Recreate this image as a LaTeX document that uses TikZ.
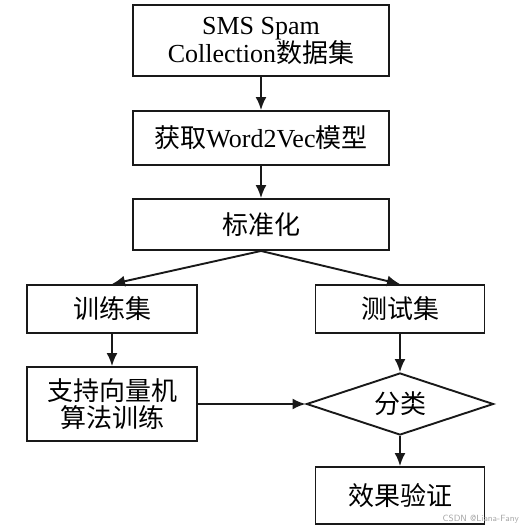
\documentclass[tikz,border=0pt]{standalone}
\usepackage{fontspec}
\setmainfont{Liberation Serif}
\newfontfamily\cjk{Noto Sans CJK SC}
\usetikzlibrary{shapes.geometric,arrows.meta}
\begin{document}
\begin{tikzpicture}[x=1pt,y=-1pt,
  box/.style={draw=black!90, line width=1.9pt, rectangle, inner sep=0pt, align=center,
    font=\fontsize{26}{30}\selectfont},
  dia/.style={draw=black!90, line width=1.9pt, diamond, aspect=3, inner sep=0pt,
    minimum width=187pt, minimum height=62pt, font=\fontsize{26}{30}\selectfont},
  arr/.style={draw=black!90, line width=1.9pt, -{Latex[length=13pt,width=11pt]}}]
\useasboundingbox (0,0) rectangle (524,530);
\node[box, minimum width=256pt, minimum height=71pt] (data) at (261,40.5)
  {SMS Spam\\[-2pt]Collection{\cjk 数据集}};
\node[box, minimum width=256pt, minimum height=54pt] (w2v) at (261,138)
  {{\cjk 获取}Word2Vec{\cjk 模型}};
\node[box, minimum width=256pt, minimum height=51pt] (norm) at (261,224.5)
  {\cjk 标准化};
\node[box, minimum width=170pt, minimum height=48pt] (train) at (112,309)
  {\cjk 训练集};
\node[box, minimum width=169pt, minimum height=48pt] (test) at (400,309)
  {\cjk 测试集};
\node[box, minimum width=170pt, minimum height=74pt] (svm) at (112,404)
  {\cjk 支持向量机\\[-3pt]\cjk 算法训练};
\node[dia] (cls) at (400,404) {\cjk 分类};
\node[box, minimum width=169pt, minimum height=57pt] (eval) at (400,495.5)
  {\cjk 效果验证};
\node[anchor=east, text=black!35, font=\sffamily\fontsize{9}{10}\selectfont, inner sep=0pt] (wm) at (519,519) {CSDN @Liana-Fany};
\draw[arr] (data.south) -- (w2v.north);
\draw[arr] (w2v.south) -- (norm.north);
\draw[arr] (norm.south) -- (train.north);
\draw[arr] (norm.south) -- (test.north);
\draw[arr] (train.south) -- (svm.north);
\draw[arr] (test.south) -- (cls.north);
\draw[arr] (svm.east) -- (cls.west);
\draw[arr] (cls.south) -- (eval.north);
\end{tikzpicture}
\end{document}
